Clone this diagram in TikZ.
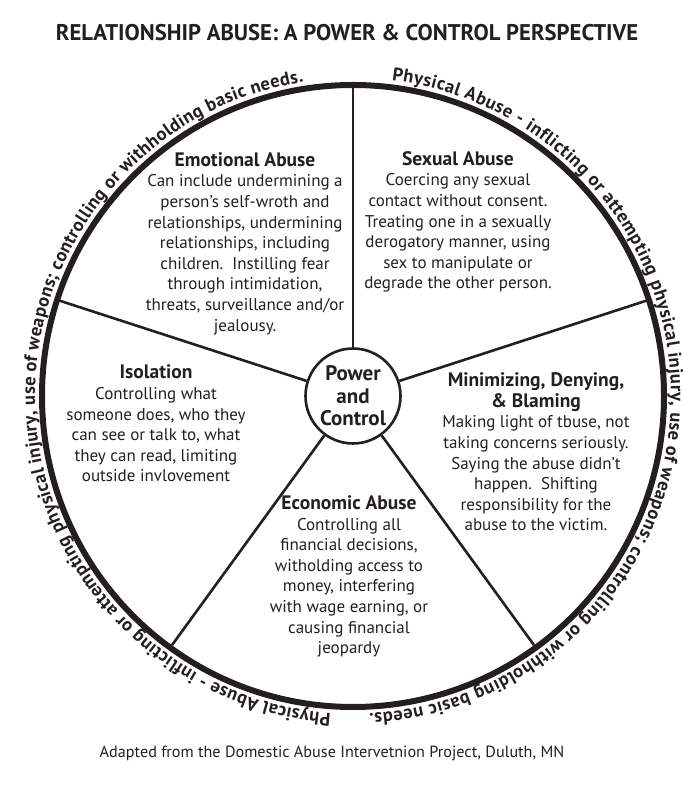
\documentclass[tikz,border=0pt]{standalone}
\usepackage{fontspec}
\setmainfont{PT Sans}
\usepackage{xcolor}
\definecolor{cInk}{HTML}{231F20}
\usetikzlibrary{positioning,calc,decorations.text}
\newcommand{\ringfont}{\bfseries\fontsize{18.5}{18.5}\selectfont}
\newcommand{\headfont}{\bfseries\fontsize{19.5}{21}\selectfont}
\tikzset{
  wheel-ring/.style={draw=cInk,line width=6pt},
  wheel-spoke/.style={draw=cInk,line width=2.6pt},
  hub/.style={circle,draw=cInk,line width=2.6pt,minimum size=95pt,inner sep=0pt,
    align=center,text=cInk,font=\bfseries\fontsize{21}{22.5}\selectfont},
  sector-text/.style={align=center,text=cInk,font=\fontsize{17}{20.6}\selectfont},
  % text on the rim, read clockwise
  ring-label/.style={decorate,decoration={text along path,text align={fit to path},
    text color=cInk,text={|\ringfont|#1}}},
}

\begin{document}
\begin{tikzpicture}[x=1pt,y=1pt]
  \useasboundingbox (0,0) rectangle (684,790);
  \coordinate (c) at (353,394);
  \node[text=cInk,font=\bfseries\fontsize{22.7}{24}\selectfont] (title) at (347,757)
    {RELATIONSHIP ABUSE: A POWER \& CONTROL PERSPECTIVE};

  \draw[wheel-ring] (c) circle[radius=311pt];
  \node[hub] (pc) at (c) {Power\\and\\Control};
  \foreach \a [count=\i] in {90,18,-54,-126,162}
    \coordinate (rim\i) at ($(c)+(\a:308)$);
  \foreach \i in {1,...,5}
    \draw[wheel-spoke] (pc) -- (rim\i);

  \path[ring-label={Physical Abuse - inflicting or attempting physical injury, use of weapons; controlling or withholding basic needs.}]
    (c) ++(83:318) arc[start angle=83,end angle=-87,radius=318pt];
  \path[ring-label={Physical Abuse - inflicting or attempting physical injury, use of weapons; controlling or withholding basic needs.}]
    (c) ++(266:318) arc[start angle=266,end angle=99,radius=318pt];

  \node[sector-text] (emotional) at (245,546.5) {{\headfont Emotional Abuse}\\
    Can include undermining a\\person’s self-wroth and\\relationships, undermining\\
    relationships, including\\children.\ \ Instilling fear\\through intimidation,\\
    threats, surveillance and/or\\jealousy.};
  \node[sector-text] (sexual) at (458,568) {{\headfont Sexual Abuse}\\
    Coercing any sexual\\contact without consent.\\Treating one in a sexually\\
    derogatory manner, using\\sex to manipulate or\\degrade the other person.};
  \node[sector-text] (isolation) at (156,366.5) {{\headfont Isolation}\\
    Controlling what\\someone does, who they\\can see or talk to, what\\
    they can read, limiting\\outside invlovement};
  \node[sector-text] (minimizing) at (536,338) {{\headfont Minimizing, Denying,}\\
    {\headfont \& Blaming}\\
    Making light of tbuse, not\\taking concerns seriously.\\Saying the abuse didn’t\\
    happen.\ \ Shifting\\responsibility for the\\abuse to the victim.};
  \node[sector-text] (economic) at (349,213.5) {{\headfont Economic Abuse}\\
    Controlling all\\financial decisions,\\witholding access to\\
    money, interfering\\with wage earning, or\\causing financial\\jeopardy};

  \node[text=cInk,font=\fontsize{16.2}{17}\selectfont] (source) at (332,37)
    {Adapted from the Domestic Abuse Intervetnion Project, Duluth, MN};
\end{tikzpicture}
\end{document}
